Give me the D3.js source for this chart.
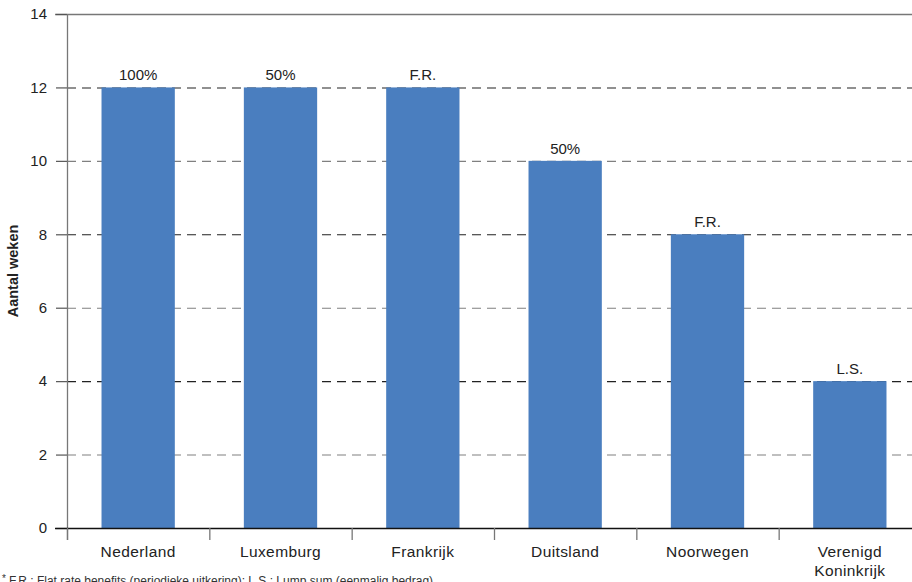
<!DOCTYPE html>
<html>
<head>
<meta charset="utf-8">
<script src="https://cdn.jsdelivr.net/npm/d3@7"></script>
<style>
  body { margin: 0; background: #fff; }
  svg { display: block; font-family: "Liberation Sans", Arial, sans-serif; }
</style>
</head>
<body>
<svg id="chart" width="912" height="582"></svg>
<script>
// data
const countries = ["Nederland", "Luxemburg", "Frankrijk", "Duitsland", "Noorwegen", "Verenigd Koninkrijk"];
const weeks = [12, 12, 12, 10, 8, 4];
const barLabels = ["100%", "50%", "F.R.", "50%", "F.R.", "L.S."];
const yTicks = [0, 2, 4, 6, 8, 10, 12, 14];
const footnote = "F.R.: Flat rate benefits (periodieke uitkering); L.S.: Lump sum (eenmalig bedrag)";

const svg = d3.select("#chart");

// plot area (the right side runs off the canvas, like the original)
const plotLeft = 67, plotRight = 921, plotTop = 14, plotBottom = 528;

const x = d3.scaleBand()
  .domain(countries)
  .range([plotLeft, plotRight])
  .paddingInner(0.485)
  .paddingOuter(0.2425);

const y = d3.scaleLinear().domain([0, 14]).range([plotBottom, plotTop]);

// gridlines, alternating dark / light dashes
svg.append("g")
  .selectAll("line")
  .data(yTicks.filter(d => d > 0 && d < 14))
  .join("line")
  .attr("x1", plotLeft)
  .attr("x2", 912)
  .attr("y1", d => y(d) + 0.5)
  .attr("y2", d => y(d) + 0.5)
  .attr("stroke", d => (d / 2) % 2 === 0 ? "#222" : "#808080")
  .attr("stroke-width", 1.1)
  .attr("stroke-dasharray", "9,6");

// top line
svg.append("line")
  .attr("x1", 55).attr("x2", 912)
  .attr("y1", y(14) + 0.5).attr("y2", y(14) + 0.5)
  .attr("stroke", "#777").attr("stroke-width", 1.3);

// bars
svg.append("g")
  .selectAll("rect")
  .data(countries)
  .join("rect")
  .attr("x", d => x(d))
  .attr("y", (d, i) => y(weeks[i]))
  .attr("width", x.bandwidth())
  .attr("height", (d, i) => y(0) - y(weeks[i]))
  .attr("fill", "#4a7ebf");

// bar labels
svg.append("g")
  .selectAll("text")
  .data(countries)
  .join("text")
  .attr("x", d => x(d) + x.bandwidth() / 2)
  .attr("y", (d, i) => y(weeks[i]) - 7)
  .attr("text-anchor", "middle")
  .attr("font-size", 15)
  .attr("fill", "#222")
  .text((d, i) => barLabels[i]);

// y axis
const yAxis = d3.axisLeft(y).tickValues(yTicks).tickSize(11).tickPadding(9);
const gy = svg.append("g")
  .attr("transform", `translate(${plotLeft},0)`)
  .call(yAxis);
gy.select(".domain").remove();
gy.selectAll(".tick line").attr("stroke", "#555").attr("stroke-width", 1.2);
gy.selectAll(".tick text")
  .attr("font-size", 15)
  .attr("fill", "#222")
  .attr("font-family", "Liberation Sans, Arial, sans-serif");

svg.append("line")
  .attr("x1", plotLeft + 0.5).attr("x2", plotLeft + 0.5)
  .attr("y1", plotTop).attr("y2", 540)
  .attr("stroke", "#777").attr("stroke-width", 1.3);

// x axis baseline and category separators
svg.append("line")
  .attr("x1", 55).attr("x2", 912)
  .attr("y1", plotBottom + 0.5).attr("y2", plotBottom + 0.5)
  .attr("stroke", "#111").attr("stroke-width", 1.3);

const step = x.step();
svg.append("g")
  .selectAll("line")
  .data(d3.range(countries.length))
  .join("line")
  .attr("x1", i => plotLeft + i * step + 0.5)
  .attr("x2", i => plotLeft + i * step + 0.5)
  .attr("y1", plotBottom)
  .attr("y2", 540)
  .attr("stroke", "#777")
  .attr("stroke-width", 1.3);

// category labels (wrap the long one)
const catText = svg.append("g")
  .selectAll("text")
  .data(countries)
  .join("text")
  .attr("x", d => x(d) + x.bandwidth() / 2)
  .attr("y", 557)
  .attr("text-anchor", "middle")
  .attr("font-size", 15.5)
  .attr("letter-spacing", 0.4)
  .attr("fill", "#222");

catText.each(function (d) {
  const words = d === "Verenigd Koninkrijk" ? ["Verenigd", "Koninkrijk"] : [d];
  d3.select(this).selectAll("tspan")
    .data(words)
    .join("tspan")
    .attr("x", x(d) + x.bandwidth() / 2)
    .attr("dy", (w, i) => i === 0 ? 0 : 19)
    .text(w => w);
});

// y axis title
svg.append("text")
  .attr("transform", `translate(17.5,${y(7)}) rotate(-90)`)
  .attr("text-anchor", "middle")
  .attr("font-size", 14.5)
  .attr("font-weight", "bold")
  .attr("fill", "#222")
  .text("Aantal weken");

// footnote (clipped at the bottom edge like the original)
const fn = svg.append("text")
  .attr("x", 2)
  .attr("y", 585)
  .attr("font-size", 12)
  .attr("fill", "#333");
fn.append("tspan").attr("font-size", 10).attr("dy", -3).text("*");
fn.append("tspan").attr("dy", 3).attr("dx", 3).text(footnote);
</script>
</body>
</html>
